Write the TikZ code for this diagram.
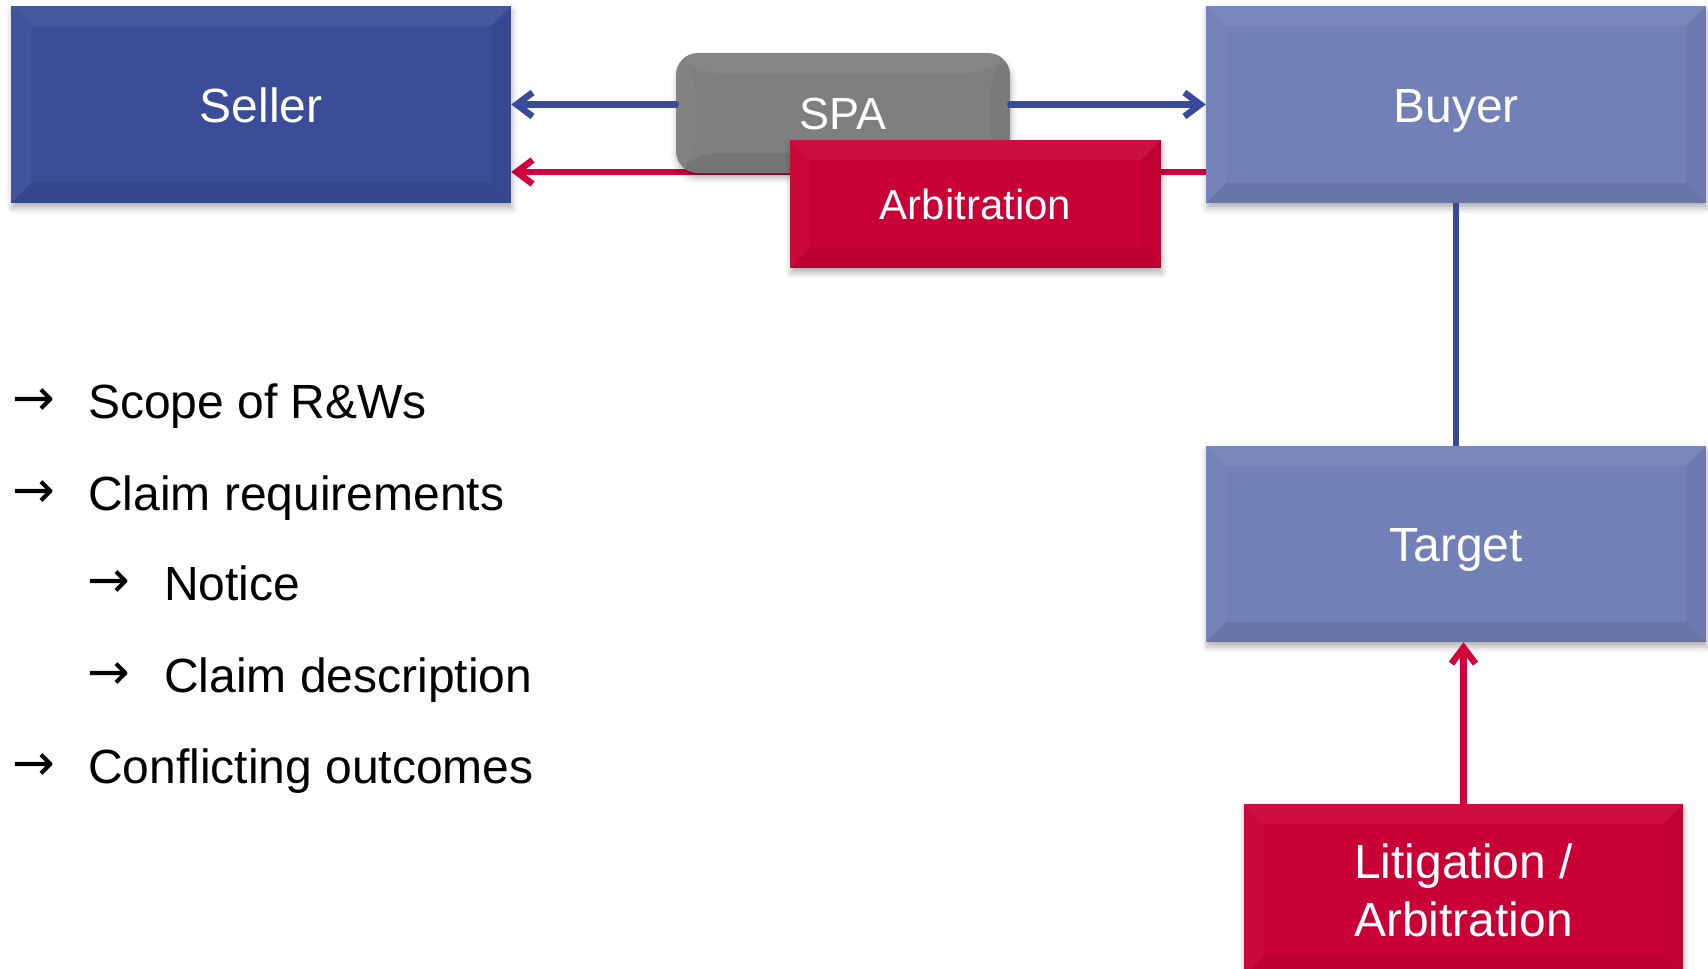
\documentclass[tikz,border=0pt]{standalone}
\usepackage{fontspec}
\setmainfont{Liberation Sans}
\newfontfamily\arrowfont{DejaVu Sans}
\usetikzlibrary{arrows.meta,shadows.blur}
\pgfdeclarelayer{bg}
\pgfsetlayers{bg,main}
\definecolor{sellerblue}{HTML}{3B4D98}
\definecolor{buyerblue}{HTML}{7180B6}
\definecolor{spagray}{HTML}{7F7F7F}
\definecolor{boxred}{HTML}{C90035}
\definecolor{lineblue}{HTML}{3A4A9A}
\definecolor{linered}{HTML}{D2003C}
\tikzset{
  bevel/.style={path picture={
    \fill[white,opacity=.06] (path picture bounding box.north west) -- (path picture bounding box.north east) -- ([xshift=-20pt,yshift=-20pt]path picture bounding box.north east) -- ([xshift=20pt,yshift=-20pt]path picture bounding box.north west) -- cycle;
    \fill[black,opacity=.08] (path picture bounding box.south west) -- (path picture bounding box.south east) -- ([xshift=-20pt,yshift=20pt]path picture bounding box.south east) -- ([xshift=20pt,yshift=20pt]path picture bounding box.south west) -- cycle;
    \fill[black,opacity=.04] (path picture bounding box.south east) -- (path picture bounding box.north east) -- ([xshift=-20pt,yshift=-20pt]path picture bounding box.north east) -- ([xshift=-20pt,yshift=20pt]path picture bounding box.south east) -- cycle;
    \fill[white,opacity=.03] (path picture bounding box.south west) -- (path picture bounding box.north west) -- ([xshift=20pt,yshift=-20pt]path picture bounding box.north west) -- ([xshift=20pt,yshift=20pt]path picture bounding box.south west) -- cycle;
  }},
  box/.style={rectangle, inner sep=0pt, text=white, align=center,
    blur shadow={shadow xshift=1pt, shadow yshift=-5pt, shadow blur radius=6pt, shadow opacity=30},
    bevel},
  bigfont/.style={font=\fontsize{48}{58}\selectfont, text height=35pt, text depth=0pt},
  bluearrow/.style={draw=lineblue, line width=6.5pt, line cap=round, -{Straight Barb[length=16pt,width=24pt]}},
  redarrow/.style={draw=linered, line width=6.5pt, line cap=round, -{Straight Barb[length=16pt,width=24pt]}},
  blueline/.style={draw=lineblue, line width=6.5pt},
  listtext/.style={anchor=base west, inner sep=0pt, font=\fontsize{48}{58}\selectfont, text=black},
  listarrow/.style={anchor=base west, inner sep=0pt, font=\arrowfont\fontsize{51}{60}\selectfont, text=black},
}
\begin{document}
\begin{tikzpicture}[x=1pt,y=-1pt]
\useasboundingbox (0,0) rectangle (1708,969);
\clip (0,0) rectangle (1708,969);

\node[box, bigfont, fill=sellerblue, minimum width=500pt, minimum height=197pt] (seller) at (261,104.5) {Seller};
\node[box, bigfont, fill=buyerblue, minimum width=500pt, minimum height=197pt] (buyer) at (1456,104.5) {Buyer};
\node[box, bigfont, fill=buyerblue, minimum width=500pt, minimum height=196pt] (target) at (1456,544) {Target};
\node[box, fill=spagray, rounded corners=22pt, minimum width=334pt, minimum height=120pt,
      font=\fontsize{45}{54}\selectfont, text height=32pt, text depth=0pt] (spa) at (843,113) {SPA};
\node[box, fill=boxred, minimum width=371pt, minimum height=128pt,
      font=\fontsize{42}{50}\selectfont, text height=30pt, text depth=0pt] (arb) at (975.5,204) {Arbitration};
\node[box, fill=boxred, minimum width=439pt, minimum height=172pt,
      font=\fontsize{48}{58}\selectfont] (lit) at (1463.5,890) {Litigation /\\Arbitration};

\begin{pgfonlayer}{bg}
\draw[redarrow] ([yshift=-67.5pt]buyer.west) -- ([yshift=-67.5pt]seller.east);
\end{pgfonlayer}
\draw[bluearrow] (spa.west |- seller.east) -- (seller.east);
\draw[bluearrow] (spa.east |- buyer.west) -- (buyer.west);
\draw[blueline] (buyer.south) -- (target.north);
\draw[redarrow] (lit.north) -- (lit.north |- target.south);

\node[listarrow] (a1) at (12,415) {→};
\node[listtext] (t1) at (88,418) {Scope of R\&Ws};
\node[listarrow] (a2) at (12,507) {→};
\node[listtext] (t2) at (88,510) {Claim requirements};
\node[listarrow] (a3) at (87,597) {→};
\node[listtext] (t3) at (164,600) {Notice};
\node[listarrow] (a4) at (87,689) {→};
\node[listtext] (t4) at (164,692) {Claim description};
\node[listarrow] (a5) at (12,780) {→};
\node[listtext] (t5) at (88,783) {Conflicting outcomes};
\end{tikzpicture}
\end{document}
